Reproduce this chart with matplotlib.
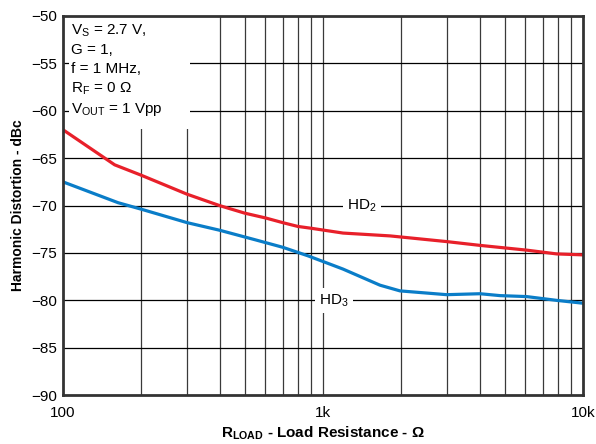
import numpy as np
import matplotlib.pyplot as plt
from matplotlib.patches import Rectangle
from matplotlib.ticker import FixedLocator, NullFormatter

plt.rcParams['font.family'] = ['Liberation Sans', 'DejaVu Sans']
plt.rcParams['mathtext.default'] = 'regular'

# HD2 / HD3 (R_LOAD in ohms, distortion in dBc)
r_hd2 = [100, 158, 200, 300, 400, 500, 600, 700, 800, 904, 1194, 1811, 2990, 4017, 6067, 7920, 10000]
hd2 = [-62.0, -65.7, -66.8, -68.8, -70.0, -70.8, -71.3, -71.8, -72.2, -72.4, -72.9, -73.2, -73.8, -74.2, -74.7, -75.1, -75.2]

r_hd3 = [100, 163, 201, 300, 400, 547, 700, 875, 1093, 1194, 1657, 1977, 2990, 4017, 4800, 6067, 7920, 10000]
hd3 = [-67.5, -69.7, -70.4, -71.8, -72.6, -73.6, -74.4, -75.3, -76.3, -76.7, -78.4, -79.0, -79.4, -79.3, -79.5, -79.6, -80.0, -80.3]

yticks = [-90, -85, -80, -75, -70, -65, -60, -55, -50]
xticks = [100, 1000, 10000]
xticklabels = ['100', '1k', '10k']
cond_lines = ['V$_S$ = 2.7 V,', 'G = 1,', 'f = 1 MHz,', 'R$_F$ = 0 $\\Omega$', 'V$_{OUT}$ = 1 Vpp']

fig = plt.figure(figsize=(5.96, 4.44), dpi=100)
ax = fig.add_axes([0.1057, 0.110, 0.8725, 0.854])

ax.set_xscale('log')
ax.set_xlim(100, 10000)
ax.set_ylim(-90, -50)

# grid
minors = [m * d for d in (100, 1000) for m in range(2, 10)]
for xv in minors + [1000]:
    ax.axvline(xv, color='#3a3a3a', lw=0.9, zorder=1)
for yv in yticks[1:-1]:
    ax.axhline(yv, color='black', lw=0.9, zorder=1)

ax.plot(r_hd2, hd2, color='#E8202A', lw=2.3, zorder=3)
ax.plot(r_hd3, hd3, color='#0A7DC8', lw=2.3, zorder=3)

ax.text(1410, -70, 'HD$_2$', fontsize=11, ha='center', va='center', zorder=4,
        bbox=dict(facecolor='white', edgecolor='none', pad=3))
ax.text(1100, -80, 'HD$_3$', fontsize=11, ha='center', va='center', zorder=4,
        bbox=dict(facecolor='white', edgecolor='none', pad=3))

# white panel behind the test conditions
ax.add_patch(Rectangle((108, -61.9), 308 - 108, 11.9, facecolor='white',
                       edgecolor='none', zorder=2))
ys = [-51.6, -53.6, -55.6, -57.7, -59.9]
for txt, yv in zip(cond_lines, ys):
    ax.text(107, yv, txt, fontsize=11, ha='left', va='center', zorder=4,
            bbox=dict(facecolor='white', edgecolor='none', pad=1))

ax.xaxis.set_major_locator(FixedLocator(xticks))
ax.set_xticklabels(xticklabels)
ax.xaxis.set_minor_formatter(NullFormatter())
ax.set_yticks(yticks)
ax.tick_params(which='both', length=0, labelsize=11)
ax.tick_params(axis='x', pad=8)
ax.tick_params(axis='y', pad=4)

for s in ax.spines.values():
    s.set_linewidth(2)
    s.set_color('#333333')
    s.set_zorder(5)

ax.set_ylabel('Harmonic Distortion - dBc', fontsize=10, fontweight='bold', labelpad=5)
ax.set_xlabel('R$_{LOAD}$ - Load Resistance - $\\Omega$', fontsize=11, fontweight='bold', labelpad=3)

fig.savefig('out.png', dpi=100)
